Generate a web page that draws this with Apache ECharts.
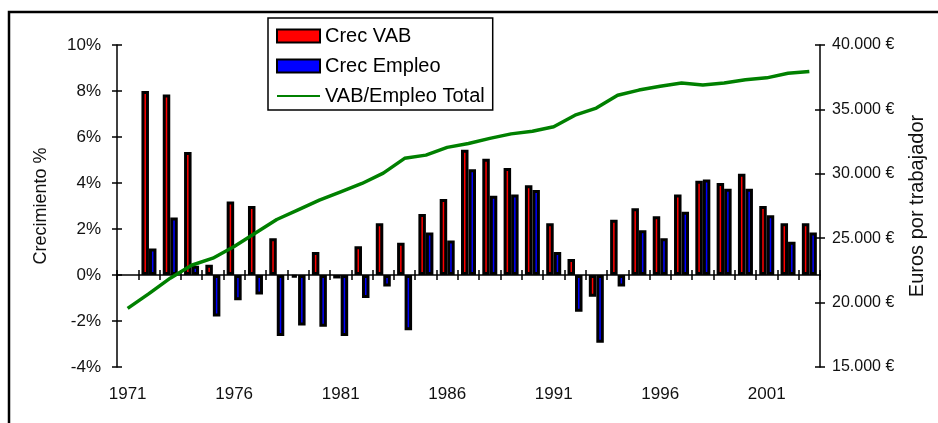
<!DOCTYPE html>
<html>
<head>
<meta charset="utf-8">
<script src="https://cdn.jsdelivr.net/npm/echarts@6/dist/echarts.min.js"></script>
<style>html,body{margin:0;padding:0;background:#fff}#c{width:938px;height:423px}</style>
</head>
<body>
<div id="c"></div>
<script>
var years = ['1971','1972','1973','1974','1975','1976','1977','1978','1979','1980','1981','1982','1983','1984','1985','1986','1987','1988','1989','1990','1991','1992','1993','1994','1995','1996','1997','1998','1999','2000','2001','2002','2003'];
var crecVAB = [null, 8.0, 7.85, 5.35, 0.45, 3.2, 3.0, 1.6, -0.1, 1.0, -0.15, 1.25, 2.25, 1.4, 2.65, 3.3, 5.45, 5.05, 4.65, 3.9, 2.25, 0.7, -0.95, 2.4, 2.9, 2.55, 3.5, 4.1, 4.0, 4.4, 3.0, 2.25, 2.25];
var crecEmpleo = [null, 1.15, 2.5, 0.4, -1.8, -1.1, -0.85, -2.65, -2.2, -2.25, -2.65, -1.0, -0.5, -2.4, 1.85, 1.5, 4.6, 3.45, 3.5, 3.7, 1.0, -1.6, -2.95, -0.5, 1.95, 1.6, 2.75, 4.15, 3.75, 3.75, 2.6, 1.45, 1.85];
var vabEmpleo = [19550, 20700, 21900, 22900, 23450, 24350, 25400, 26450, 27200, 27950, 28600, 29250, 30050, 31200, 31450, 32050, 32350, 32750, 33100, 33300, 33650, 34550, 35100, 36100, 36500, 36800, 37050, 36900, 37050, 37300, 37450, 37800, 37950];
var leftTicks = {min: -4, max: 10, interval: 2};
var rightTicks = {min: 15000, max: 40000, interval: 5000};

var FONT = 'Liberation Sans, Arial, sans-serif';
function euro(v) { return String(v).replace(/\B(?=(\d{3})+(?!\d))/g, '.') + ' \u20AC'; }

var chart = echarts.init(document.getElementById('c'), null, {renderer: 'canvas'});
var axLine = {show: true, lineStyle: {color: '#000', width: 1.5}};
chart.setOption({
  animation: false,
  backgroundColor: '#fff',
  textStyle: {fontFamily: FONT},
  graphic: [{
    type: 'rect', z: -10, silent: true,
    shape: {x: 9, y: 12, width: 1000, height: 1000},
    style: {fill: 'none', stroke: '#000', lineWidth: 2.5}
  }],
  legend: {
    orient: 'vertical', left: 268, top: 18,
    padding: [8, 8, 4, 8], itemWidth: 43, itemHeight: 13, itemGap: 10,
    borderColor: '#000', borderWidth: 1.5, backgroundColor: '#fff',
    textStyle: {fontSize: 20, color: '#000', fontFamily: FONT},
    data: [
      {name: 'Crec VAB', icon: 'rect'},
      {name: 'Crec Empleo', icon: 'rect'},
      {name: 'VAB/Empleo Total', itemStyle: {opacity: 0}}
    ]
  },
  grid: {left: 117, right: 118, top: 45, bottom: 56, containLabel: false},
  xAxis: [{
    type: 'category', data: years, position: 'bottom', boundaryGap: true,
    axisLine: {show: true, onZero: true, onZeroAxisIndex: 0, lineStyle: {color: '#000', width: 1.5}},
    axisTick: {show: true, interval: 0, length: 5, lineStyle: {color: '#000', width: 1.5}},
    axisLabel: {show: false}, splitLine: {show: false}
  }, {
    type: 'category', data: years, position: 'bottom', boundaryGap: true,
    axisLine: {show: false, onZero: true, onZeroAxisIndex: 0},
    axisTick: {show: true, inside: true, interval: 0, length: 5, lineStyle: {color: '#000', width: 1.5}},
    axisLabel: {show: false}, splitLine: {show: false}
  }, {
    type: 'category', data: years, position: 'bottom', boundaryGap: true,
    axisLine: {show: false, onZero: false},
    axisTick: {show: false},
    axisLabel: {show: true, interval: 4, margin: 19, fontSize: 17, color: '#111', fontFamily: FONT},
    splitLine: {show: false}
  }],
  yAxis: [{
    type: 'value', position: 'left', min: leftTicks.min, max: leftTicks.max, interval: leftTicks.interval,
    axisLine: axLine,
    axisTick: {show: true, length: 5, lineStyle: {color: '#000', width: 1.5}},
    axisLabel: {formatter: '{value}%', fontSize: 17, color: '#111', margin: 16, fontFamily: FONT},
    splitLine: {show: false},
    name: 'Crecimiento %', nameLocation: 'middle', nameGap: 67,
    nameTextStyle: {fontSize: 18, color: '#111', fontFamily: FONT}
  }, {
    type: 'value', position: 'right', min: rightTicks.min, max: rightTicks.max, interval: rightTicks.interval,
    axisLine: axLine,
    axisTick: {show: true, length: 5, lineStyle: {color: '#000', width: 1.5}},
    axisLabel: {formatter: euro, fontSize: 16, color: '#111', margin: 12, fontFamily: FONT},
    splitLine: {show: false},
    name: 'Euros por trabajador', nameLocation: 'middle', nameGap: 87,
    nameTextStyle: {fontSize: 20, color: '#111', fontFamily: FONT}
  }, {
    type: 'value', position: 'left', min: leftTicks.min, max: leftTicks.max, interval: leftTicks.interval,
    axisLine: {show: false}, axisLabel: {show: false}, splitLine: {show: false},
    axisTick: {show: true, inside: true, length: 5, lineStyle: {color: '#000', width: 1.5}}
  }, {
    type: 'value', position: 'right', min: rightTicks.min, max: rightTicks.max, interval: rightTicks.interval,
    axisLine: {show: false}, axisLabel: {show: false}, splitLine: {show: false},
    axisTick: {show: true, inside: true, length: 5, lineStyle: {color: '#000', width: 1.5}}
  }],
  series: [{
    name: 'Crec VAB', type: 'bar', xAxisIndex: 0, yAxisIndex: 0, data: crecVAB,
    barWidth: 7.5, barGap: '0%',
    itemStyle: {color: '#ff0000', borderColor: '#000', borderWidth: 3}
  }, {
    name: 'Crec Empleo', type: 'bar', xAxisIndex: 0, yAxisIndex: 0, data: crecEmpleo,
    barWidth: 7.5, barGap: '0%',
    itemStyle: {color: '#0000ff', borderColor: '#000', borderWidth: 3}
  }, {
    name: 'VAB/Empleo Total', type: 'line', xAxisIndex: 0, yAxisIndex: 1, data: vabEmpleo,
    symbol: 'none', smooth: false, z: 5,
    lineStyle: {color: '#008000', width: 3.5}, itemStyle: {color: '#008000'}
  }]
});
</script>
</body>
</html>
